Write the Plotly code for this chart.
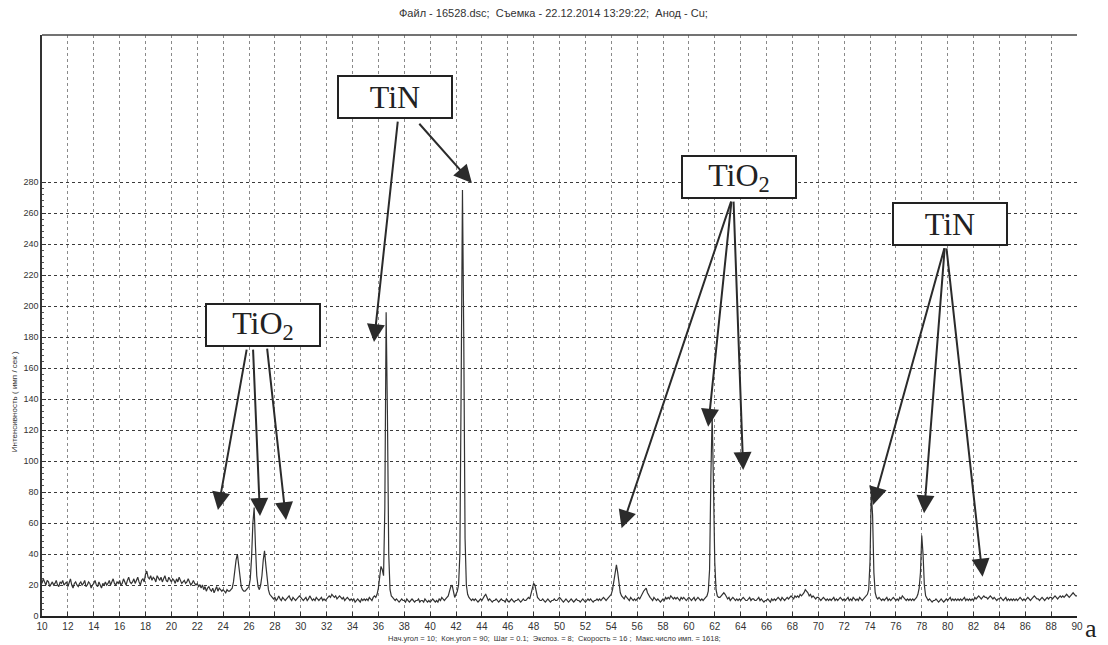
import plotly.graph_objects as go

# Scan parameters (from the caption): start 10 deg, step 0.1 deg
scan_start = 10.0
scan_step = 0.1

# Intensity readings (imp/s), one row per degree (x.0 ... x.9)
intensity_10_20 = [
    21, 24, 22, 20, 23, 22, 19, 21, 22, 20,
    21, 23, 20, 19, 22, 21, 23, 20, 21, 22,
    19, 21, 24, 20, 18, 21, 22, 20, 19, 21,
    22, 20, 21, 23, 19, 20, 22, 21, 18, 20,
    21, 23, 20, 19, 22, 20, 18, 21, 20, 22,
    20, 21, 23, 20, 22, 24, 21, 20, 22, 21,
    23, 20, 21, 24, 22, 20, 23, 25, 22, 21,
    22, 24, 21, 23, 25, 22, 20, 23, 24, 22,
    27, 29, 25, 24, 26, 23, 25, 24, 22, 26,
    24, 23, 25, 22, 24, 26, 23, 22, 25, 23,
]
intensity_20_30 = [
    22, 24, 23, 21, 24, 22, 25, 23, 21, 22,
    23, 21, 22, 24, 22, 20, 21, 23, 21, 20,
    21, 19, 20, 18, 20, 17, 19, 16, 18, 19,
    17, 16, 18, 15, 17, 19, 16, 18, 17, 16,
    17, 16, 15, 17, 16, 16, 17, 18, 22, 30,
    36, 40, 33, 25, 19, 17, 16, 16, 17, 18,
    19, 24, 38, 60, 70, 45, 26, 19, 17, 20,
    26, 36, 42, 33, 22, 17, 14, 13, 12, 11,
    12, 10, 11, 13, 11, 10, 12, 11, 10, 11,
    12, 13, 11, 10, 12, 11, 10, 11, 12, 13,
]
intensity_30_40 = [
    12, 11, 10, 11, 12, 10, 11, 13, 11, 10,
    11, 10, 12, 11, 10, 11, 12, 10, 11, 10,
    11, 12, 13, 12, 14, 13, 12, 13, 11, 12,
    13, 12, 11, 12, 10, 11, 12, 11, 10, 11,
    10, 11, 9, 10, 11, 10, 9, 11, 10, 11,
    10, 11, 10, 12, 11, 10, 12, 13, 12, 14,
    18, 24, 32, 30, 26, 70, 196, 130, 40, 17,
    13, 12, 11, 10, 11, 10, 9, 10, 11, 10,
    10, 9, 11, 10, 9, 10, 11, 10, 9, 10,
    10, 11, 9, 10, 10, 9, 11, 10, 9, 10,
]
intensity_40_50 = [
    9, 10, 11, 10, 9, 10, 9, 11, 10, 12,
    11, 10, 11, 12, 13, 16, 19, 20, 16, 12,
    14, 16, 20, 40, 150, 275, 180, 50, 20, 14,
    12, 11, 10, 11, 10, 11, 10, 9, 10, 11,
    10, 12, 13, 14, 12, 10, 11, 10, 9, 10,
    10, 11, 10, 9, 10, 11, 10, 10, 9, 11,
    10, 9, 10, 11, 10, 9, 10, 10, 11, 10,
    9, 10, 11, 10, 10, 11, 12, 11, 14, 17,
    21, 20, 15, 12, 11, 10, 10, 11, 10, 9,
    10, 11, 10, 9, 10, 10, 11, 10, 10, 11,
]
intensity_50_60 = [
    12, 11, 10, 9, 10, 11, 10, 9, 10, 11,
    10, 9, 10, 11, 10, 10, 9, 10, 11, 10,
    9, 10, 11, 10, 11, 10, 9, 10, 10, 11,
    10, 11, 10, 11, 12, 11, 10, 11, 12, 13,
    14, 17, 22, 29, 33, 28, 20, 15, 13, 12,
    11, 13, 12, 11, 10, 12, 11, 10, 11, 10,
    11, 12, 11, 13, 14, 16, 17, 18, 15, 13,
    12, 11, 10, 12, 11, 10, 11, 10, 9, 10,
    11, 10, 12, 11, 12, 11, 13, 12, 11, 12,
    11, 12, 11, 10, 12, 11, 12, 11, 10, 11,
]
intensity_60_70 = [
    12, 11, 10, 11, 12, 10, 11, 12, 11, 10,
    11, 10, 11, 12, 13, 16, 30, 90, 130, 85,
    35, 17, 13, 12, 12, 13, 14, 15, 14, 12,
    11, 12, 10, 11, 12, 11, 10, 11, 10, 11,
    10, 11, 12, 11, 10, 10, 11, 12, 10, 11,
    11, 10, 10, 11, 12, 10, 11, 10, 9, 10,
    10, 11, 10, 9, 11, 10, 11, 10, 11, 12,
    11, 10, 12, 11, 10, 11, 12, 11, 12, 13,
    12, 11, 13, 12, 13, 12, 14, 13, 14, 15,
    17, 16, 15, 13, 14, 12, 13, 12, 11, 12,
]
intensity_70_80 = [
    12, 11, 10, 11, 12, 11, 10, 11, 10, 11,
    10, 11, 12, 10, 11, 10, 11, 12, 11, 10,
    11, 10, 11, 12, 10, 11, 10, 12, 11, 10,
    11, 10, 12, 11, 10, 11, 12, 13, 14, 17,
    35, 80, 65, 28, 15, 12, 11, 12, 11, 10,
    11, 10, 11, 12, 10, 11, 10, 11, 12, 11,
    10, 11, 10, 12, 11, 13, 12, 11, 10, 11,
    10, 11, 10, 11, 10, 11, 12, 14, 18, 28,
    52, 40, 20, 13, 11, 10, 11, 10, 9, 10,
    10, 11, 10, 9, 10, 11, 10, 9, 10, 11,
]
intensity_80_90 = [
    10, 11, 12, 10, 11, 10, 11, 10, 11, 10,
    11, 10, 11, 12, 10, 11, 10, 11, 10, 11,
    10, 12, 11, 12, 13, 12, 11, 12, 13, 12,
    12, 11, 12, 13, 12, 11, 12, 11, 10, 11,
    11, 12, 11, 10, 11, 12, 10, 11, 10, 11,
    10, 11, 10, 11, 10, 11, 12, 11, 10, 11,
    10, 11, 12, 11, 10, 11, 12, 13, 12, 11,
    11, 10, 11, 12, 11, 10, 11, 12, 11, 12,
    12, 11, 12, 13, 12, 11, 12, 13, 12, 13,
    12, 13, 14, 13, 12, 13, 14, 15, 14, 13,
    13,
]

x_ticks = list(range(10, 91, 2))
y_ticks = list(range(0, 281, 20))

# Phase labels: (text, x, y)
phase_labels = [
    ("TiO<sub>2</sub>", 27.12, 188.0),
    ("TiN", 37.28, 335.0),
    ("TiO<sub>2</sub>", 63.90, 283.5),
    ("TiN", 80.21, 253.2),
]
# Arrows: (tail_x, tail_y, head_x, head_y)
phase_arrows = [
    (25.84, 172.9, 23.60, 68.4),
    (26.31, 172.9, 26.85, 64.5),
    (27.39, 173.5, 28.86, 61.9),
    (37.51, 320.0, 35.66, 176.8),
    (39.06, 318.7, 43.23, 279.4),
    (63.30, 268.4, 54.80, 56.6),
    (63.30, 268.4, 61.49, 122.1),
    (63.45, 268.4, 64.20, 94.2),
    (79.78, 238.3, 74.24, 71.6),
    (79.78, 238.3, 78.18, 66.3),
    (79.90, 238.3, 82.70, 25.4),
]

intensity = (intensity_10_20 + intensity_20_30 + intensity_30_40 + intensity_40_50
             + intensity_50_60 + intensity_60_70 + intensity_70_80 + intensity_80_90)
angles = [round(scan_start + scan_step * i, 1) for i in range(len(intensity))]

fig = go.Figure()
fig.add_trace(go.Scatter(x=angles, y=intensity, mode="lines",
                         line=dict(color="#333333", width=1.2),
                         hoverinfo="x+y", showlegend=False))

annotations = []
for tx, ty, hx, hy in phase_arrows:
    annotations.append(dict(
        x=hx, y=hy, ax=tx, ay=ty, xref="x", yref="y", axref="x", ayref="y",
        text="", showarrow=True, arrowhead=2, arrowsize=1.8, arrowwidth=2,
        arrowcolor="#2b2b2b", standoff=0, startstandoff=0))
for text, lx, ly in phase_labels:
    annotations.append(dict(
        x=lx, y=ly, xref="x", yref="y", text=text, showarrow=False,
        font=dict(family="Liberation Serif, Times New Roman, serif", size=32, color="#222222"),
        bgcolor="white", bordercolor="#222222", borderwidth=2, borderpad=1,
        width=110, height=38, align="center", valign="middle"))

annotations.append(dict(
    x=0.5, y=1.0, xref="paper", yref="paper", xanchor="center", yanchor="middle",
    yshift=22, xshift=-6,
    text="Файл - 16528.dsc;  Съемка - 22.12.2014 13:29:22;  Анод - Cu;",
    showarrow=False, font=dict(family="Liberation Sans, Arial", size=11, color="#333333")))
annotations.append(dict(
    x=0.5, y=0.0, xref="paper", yref="paper", xanchor="center", yanchor="middle",
    yshift=-22, xshift=-5,
    text="Нач.угол = 10;  Кон.угол = 90;  Шаг = 0.1;  Экспоз. = 8;  Скорость = 16 ;  Макс.число имп. = 1618;",
    showarrow=False, font=dict(family="Liberation Sans, Arial", size=7.5, color="#333333")))
annotations.append(dict(
    x=-0.027, y=0.368, xref="paper", yref="paper", xanchor="center", yanchor="middle",
    textangle=-90,
    text="Интенсивность ( имп / сек )", showarrow=False,
    font=dict(family="Liberation Sans, Arial", size=8, color="#333333")))
annotations.append(dict(
    x=1.0, y=0.0, xref="paper", yref="paper", xanchor="center", yanchor="bottom",
    xshift=14, yshift=-29,
    text="a", showarrow=False,
    font=dict(family="Liberation Serif, Times New Roman, serif", size=26, color="#222222")))

fig.update_layout(
    width=1108, height=645,
    margin=dict(l=42, r=31, t=35, b=29),
    paper_bgcolor="white", plot_bgcolor="white",
    annotations=annotations,
    shapes=[dict(type="line", xref="paper", yref="paper", x0=0, x1=1, y0=1, y1=1,
                 line=dict(color="#444444", width=1.5))],
)
fig.update_xaxes(
    range=[10, 90], tickvals=x_ticks, ticktext=[str(v) for v in x_ticks],
    showline=True, linecolor="#222222", linewidth=2,
    ticks="inside", ticklen=4, tickcolor="#333333",
    showgrid=True, gridcolor="#8a8a8a", griddash="dot", gridwidth=1,
    zeroline=False,
    tickfont=dict(family="Liberation Sans, Arial", size=10, color="#333333"),
)
fig.update_yaxes(
    range=[0, 375], tickvals=y_ticks, ticktext=[str(v) for v in y_ticks],
    showline=True, linecolor="#333333", linewidth=1.5,
    ticks="inside", ticklen=4, tickcolor="#333333",
    minor=dict(tickvals=list(range(4, 281, 4)), ticks="inside", ticklen=2, tickcolor="#555555", showgrid=False),
    showgrid=True, gridcolor="#3a3a3a", griddash="dot", gridwidth=1,
    zeroline=False,
    tickfont=dict(family="Liberation Sans, Arial", size=9, color="#333333"),
)

fig.write_html("out.html")
